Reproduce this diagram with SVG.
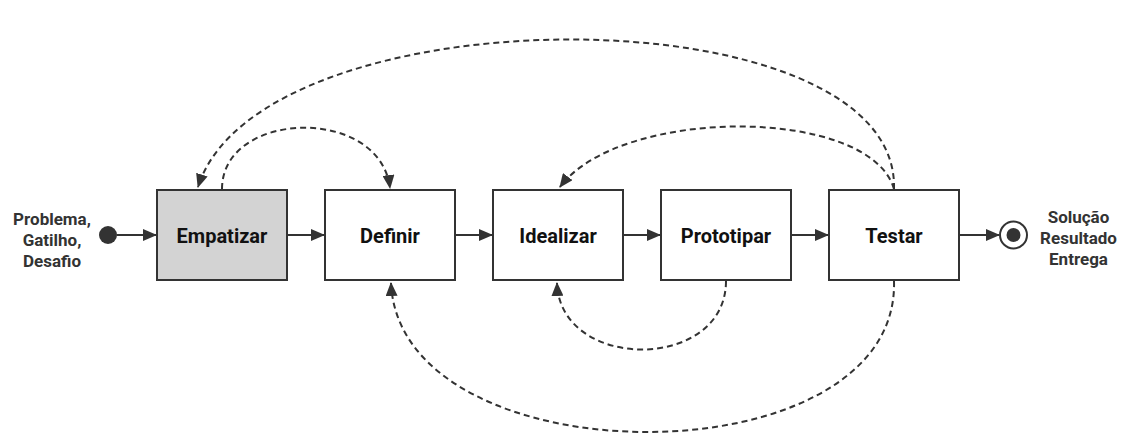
<svg xmlns="http://www.w3.org/2000/svg" width="1125" height="446" viewBox="0 0 1125 446">
<style>
.box{fill:#fff;stroke:#333;stroke-width:2}
.lbl{font-family:Roboto,"Liberation Sans",sans-serif;font-weight:bold;font-size:20px;fill:#111;text-anchor:middle}
.side{font-family:Roboto,"Liberation Sans",sans-serif;font-weight:bold;font-size:17px;fill:#333;text-anchor:middle}
.solid{fill:none;stroke:#333;stroke-width:2}
.dash{fill:none;stroke:#333;stroke-width:2;stroke-dasharray:6 4}
</style>
<defs>
<marker id="ah" markerUnits="userSpaceOnUse" markerWidth="14" markerHeight="12" refX="13" refY="6" orient="auto" viewBox="0 0 14 12">
<path d="M0,0 L14,6 L0,12 Z" fill="#333"/>
</marker>
</defs>
<rect width="1125" height="446" fill="#fff"/>
<g id="connectors">
<line class="solid" x1="117" y1="235" x2="156" y2="235" marker-end="url(#ah)"/>
<line class="solid" x1="288" y1="235" x2="324" y2="235" marker-end="url(#ah)"/>
<line class="solid" x1="456" y1="235" x2="492" y2="235" marker-end="url(#ah)"/>
<line class="solid" x1="624" y1="235" x2="660" y2="235" marker-end="url(#ah)"/>
<line class="solid" x1="792" y1="235" x2="828" y2="235" marker-end="url(#ah)"/>
<line class="solid" x1="960" y1="235" x2="999" y2="235" marker-end="url(#ah)"/>
<path class="dash" d="M894,189 C900,-10 260,-10 198,187" marker-end="url(#ah)"/>
<path class="dash" d="M222,189 C222,110 380,105 390,188" marker-end="url(#ah)"/>
<path class="dash" d="M894,189 C870,106 620,106 560,187" marker-end="url(#ah)"/>
<path class="dash" d="M726,281 C726,372 560,372 557,283" marker-end="url(#ah)"/>
<path class="dash" d="M894,281 C900,482 400,482 391,283" marker-end="url(#ah)"/>
</g>
<g id="start">
<circle cx="108" cy="235" r="9" fill="#333"/>
<text class="side" x="52" y="225">Problema,</text>
<text class="side" x="52" y="246">Gatilho,</text>
<text class="side" x="52" y="267">Desafio</text>
</g>
<g id="empatizar">
<rect x="157" y="190" width="130" height="90" class="box" style="fill:#d3d3d3"/>
<text class="lbl" x="222" y="242.5">Empatizar</text>
</g>
<g id="definir">
<rect x="325" y="190" width="130" height="90" class="box"/>
<text class="lbl" x="390" y="242.5">Definir</text>
</g>
<g id="idealizar">
<rect x="493" y="190" width="130" height="90" class="box"/>
<text class="lbl" x="558" y="242.5">Idealizar</text>
</g>
<g id="prototipar">
<rect x="661" y="190" width="130" height="90" class="box"/>
<text class="lbl" x="726" y="242.5">Prototipar</text>
</g>
<g id="testar">
<rect x="829" y="190" width="130" height="90" class="box"/>
<text class="lbl" x="894" y="242.5">Testar</text>
</g>
<g id="end">
<circle cx="1013.5" cy="235" r="13.5" fill="#fff" stroke="#333" stroke-width="2"/>
<circle cx="1013.5" cy="235" r="7" fill="#333"/>
<text class="side" x="1078.5" y="223">Solução</text>
<text class="side" x="1078.5" y="244">Resultado</text>
<text class="side" x="1078.5" y="264.5">Entrega</text>
</g>
</svg>
